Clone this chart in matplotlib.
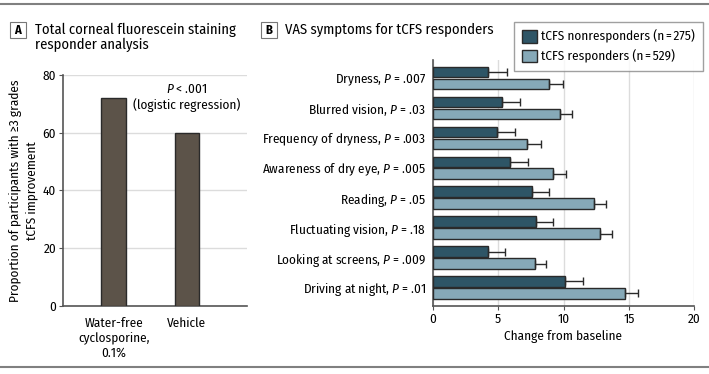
import matplotlib
matplotlib.use("Agg")
import matplotlib.pyplot as plt
import numpy as np
from matplotlib.patches import Rectangle
from matplotlib.lines import Line2D

FONT = "Fira Sans Condensed"
plt.rcParams["font.family"] = [FONT, "Lato", "DejaVu Sans"]
plt.rcParams["font.size"] = 9.5
plt.rcParams["mathtext.fontset"] = "custom"
plt.rcParams["mathtext.it"] = FONT + ":italic"
plt.rcParams["mathtext.rm"] = FONT

# Panel A data
groups_a = ["Water-free\ncyclosporine,\n0.1%", "Vehicle"]
prop_a = [72, 60]

# Panel B data
symptoms = [
    "Dryness, $P$ = .007",
    "Blurred vision, $P$ = .03",
    "Frequency of dryness, $P$ = .003",
    "Awareness of dry eye, $P$ = .005",
    "Reading, $P$ = .05",
    "Fluctuating vision, $P$ = .18",
    "Looking at screens, $P$ = .009",
    "Driving at night, $P$ = .01",
]
nonresp = [4.2, 5.3, 4.9, 5.9, 7.6, 7.9, 4.2, 10.1]
nonresp_err = [1.5, 1.35, 1.4, 1.35, 1.3, 1.3, 1.3, 1.4]
resp = [8.9, 9.7, 7.2, 9.2, 12.3, 12.8, 7.8, 14.7]
resp_err = [1.05, 0.95, 1.05, 1.0, 0.95, 0.9, 0.9, 1.0]

dark = "#2e5566"
light = "#86a9b8"
brown = "#5c5349"
edge = "#2a2a2a"
grid_c = "#dcdcdc"
spine_c = "#555555"

fig = plt.figure(figsize=(7.09, 3.74), dpi=100)

# horizontal rules top and bottom
for yy in (1 - 4 / 374, 1 - 367 / 374):
    fig.add_artist(Line2D([0, 1], [yy, yy], color="#808080", lw=1.5, transform=fig.transFigure))

# ---------- Panel A ----------
axA = fig.add_axes([63 / 709, 1 - 305.7 / 374, 184 / 709, 230.7 / 374])
xa = np.arange(len(prop_a))
axA.bar(xa, prop_a, width=0.33, color=brown, edgecolor=edge, linewidth=1, zorder=3)
axA.set_xlim(-0.69, 1.82)
axA.set_ylim(0, 80)
axA.set_yticks([0, 20, 40, 60, 80])
axA.set_xticks(xa)
axA.set_xticklabels(groups_a, linespacing=1.25)
axA.yaxis.grid(True, color=grid_c, lw=1, zorder=0)
for s in ("top", "right"):
    axA.spines[s].set_visible(False)
for s in ("left", "bottom"):
    axA.spines[s].set_color(spine_c)
    axA.spines[s].set_linewidth(1.2)
axA.tick_params(axis="y", length=3, color=spine_c, pad=2)
axA.tick_params(axis="x", length=0, pad=8)
axA.set_ylabel("Proportion of participants with \u22653 grades\ntCFS improvement", labelpad=3,
               linespacing=1.4)
axA.text(1.0, 77.5, "$P$ < .001\n(logistic regression)", ha="center", va="top", linespacing=1.3)

# ---------- Panel B ----------
axB = fig.add_axes([432.7 / 709, 1 - 306 / 374, 261.6 / 709, 246 / 374])
yb = np.arange(len(symptoms))
h = 0.35
kw = dict(height=h, edgecolor=edge, linewidth=1, zorder=3,
          error_kw=dict(ecolor=edge, elinewidth=1, capsize=3, capthick=1))
axB.barh(yb - 0.2, nonresp, xerr=[np.zeros(len(nonresp)), nonresp_err], color=dark,
         label="tCFS nonresponders (n\u2009=\u2009275)", **kw)
axB.barh(yb + 0.2, resp, xerr=[np.zeros(len(resp)), resp_err], color=light,
         label="tCFS responders (n\u2009=\u2009529)", **kw)
axB.set_xlim(0, 20)
axB.set_ylim(7.62, -0.6)
axB.set_xticks([0, 5, 10, 15, 20])
axB.set_yticks(yb)
axB.set_yticklabels(symptoms)
axB.xaxis.grid(True, color=grid_c, lw=1, zorder=0)
for s in ("top", "right"):
    axB.spines[s].set_visible(False)
for s in ("left", "bottom"):
    axB.spines[s].set_color(spine_c)
    axB.spines[s].set_linewidth(1.2)
axB.tick_params(axis="y", length=0, pad=5)
axB.tick_params(axis="x", length=3, color=spine_c, pad=2)
axB.set_xlabel("Change from baseline", labelpad=3)

leg = fig.legend(loc="upper right", bbox_to_anchor=(703 / 709, 1 - 22 / 374), frameon=True,
                 fancybox=False, edgecolor="#888888", handlelength=1.14, handleheight=1.06,
                 borderpad=0.6, labelspacing=0.45, handletextpad=0.3, borderaxespad=0)
leg.get_frame().set_linewidth(1)

# ---------- panel titles ----------
def panel_tag(x, y, letter):
    fig.add_artist(Rectangle((x / 709, 1 - (y + 8) / 374), 16 / 709, 16 / 374,
                             transform=fig.transFigure, fill=False, edgecolor="#777777", lw=0.8))
    fig.text((x + 8) / 709, 1 - y / 374, letter, ha="center", va="center",
             fontweight="bold", fontsize=9)

panel_tag(10, 30, "A")
fig.text(35 / 709, 1 - 23 / 374, "Total corneal fluorescein staining\nresponder analysis",
         ha="left", va="top", fontsize=10.5, linespacing=1.05)
panel_tag(261, 30, "B")
fig.text(285 / 709, 1 - 30 / 374, "VAS symptoms for tCFS responders",
         ha="left", va="center", fontsize=10.5)

fig.savefig("out.png", dpi=100)
